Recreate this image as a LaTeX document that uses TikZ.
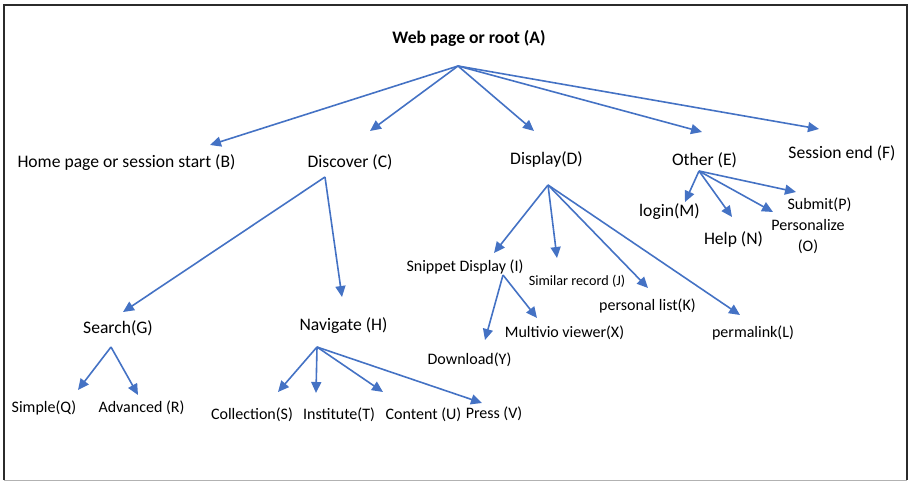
\documentclass[tikz,border=0pt]{standalone}
\usepackage{fontspec}
\setmainfont{Carlito}
\usepackage{tikz}
\usetikzlibrary{arrows.meta}
\definecolor{linkblue}{HTML}{4472C4}
\definecolor{framegrey}{HTML}{2B2B2B}

\begin{document}
\begin{tikzpicture}[x=1pt,y=-1pt,
    lbl/.style={inner sep=0pt,font=\fontsize{17.6}{20}\selectfont},
    sublbl/.style={inner sep=0pt,font=\fontsize{16}{21}\selectfont,align=center},
    tinylbl/.style={inner sep=0pt,font=\fontsize{14.2}{17}\selectfont},
    link/.style={linkblue,line width=1.6pt,-{Triangle[length=11pt,width=10pt]}}]
  \useasboundingbox (0,0) rectangle (912,481);
  % frame
  \draw[framegrey,line width=1.8pt] (4,480) |- (907,5) -- (907,480);
  \draw[black!30,line width=1pt] (4,480) -- (907,480);

  % level 0 and 1
  \node[lbl,font=\fontsize{17.6}{20}\selectfont\bfseries] (root) at (469,38) {Web page or root (A)};
  \node[lbl] (home) at (126.5,163) {Home page or session start (B)};
  \node[lbl] (discover) at (350,162) {Discover (C)};
  \node[lbl] (display) at (546.5,159) {Display(D)};
  \node[lbl] (other) at (704.5,160) {Other (E)};
  \node[lbl] (sessend) at (842,153) {Session end (F)};

  % below Discover
  \node[lbl] (search) at (118,328) {Search(G)};
  \node[lbl] (navigate) at (343.5,326) {Navigate (H)};
  \node[sublbl] (simple) at (44,408) {Simple(Q)};
  \node[sublbl] (advanced) at (141.5,408) {Advanced (R)};
  \node[sublbl] (collection) at (252,415) {Collection(S)};
  \node[sublbl] (institute) at (339,415) {Institute(T)};
  \node[sublbl] (content) at (423.5,415) {Content (U)};
  \node[sublbl] (press) at (494,414) {Press (V)};

  % below Display
  \node[sublbl] (snippet) at (465,267) {Snippet Display (I)};
  \node[tinylbl] (similar) at (577,281) {Similar record (J)};
  \node[sublbl] (plist) at (647.5,306) {personal list(K)};
  \node[sublbl] (permalink) at (753,333) {permalink(L)};
  \node[sublbl] (multivio) at (564.5,333) {Multivio viewer(X)};
  \node[sublbl] (download) at (469.5,360) {Download(Y)};

  % below Other
  \node[lbl] (login) at (669.5,212) {login(M)};
  \node[lbl] (help) at (733.5,239) {Help (N)};
  \node[sublbl] (personalize) at (808,236.5) {Personalize\\(O)};
  \node[sublbl] (submit) at (819.5,205) {Submit(P)};

  % where the arrows leave and end
  \coordinate (root-o) at (458,66);
  \coordinate (discover-o) at (325,177);
  \coordinate (display-o) at (548,185);
  \coordinate (other-o) at (699,171);
  \coordinate (search-o) at (111,347);
  \coordinate (navigate-o) at (317,347);
  \coordinate (snippet-o) at (503,275);
  \coordinate (home-t) at (210,145);
  \coordinate (discover-t) at (370,131);
  \coordinate (display-t) at (534,131);
  \coordinate (other-t) at (702,132);
  \coordinate (sessend-t) at (819,129);
  \coordinate (search-t) at (123,312);
  \coordinate (navigate-t) at (342,297);
  \coordinate (simple-t) at (78,390);
  \coordinate (advanced-t) at (138,395);
  \coordinate (collection-t) at (278,392);
  \coordinate (institute-t) at (316,393);
  \coordinate (content-t) at (383,392);
  \coordinate (press-t) at (482,403);
  \coordinate (snippet-t) at (494,253);
  \coordinate (similar-t) at (557,258);
  \coordinate (plist-t) at (648,288);
  \coordinate (permalink-t) at (740,315);
  \coordinate (download-t) at (485,340);
  \coordinate (multivio-t) at (537,318);
  \coordinate (login-t) at (685,202);
  \coordinate (help-t) at (732,217);
  \coordinate (personalize-t) at (773,212);
  \coordinate (submit-t) at (796,192);

  \foreach \a/\b in {root/home,root/discover,root/display,root/other,root/sessend,
      discover/search,discover/navigate,search/simple,search/advanced,
      navigate/collection,navigate/institute,navigate/content,navigate/press,
      display/snippet,display/similar,display/plist,display/permalink,
      snippet/download,snippet/multivio,
      other/login,other/help,other/personalize,other/submit}
    \draw[link] (\a-o) -- (\b-t);
\end{tikzpicture}
\end{document}
